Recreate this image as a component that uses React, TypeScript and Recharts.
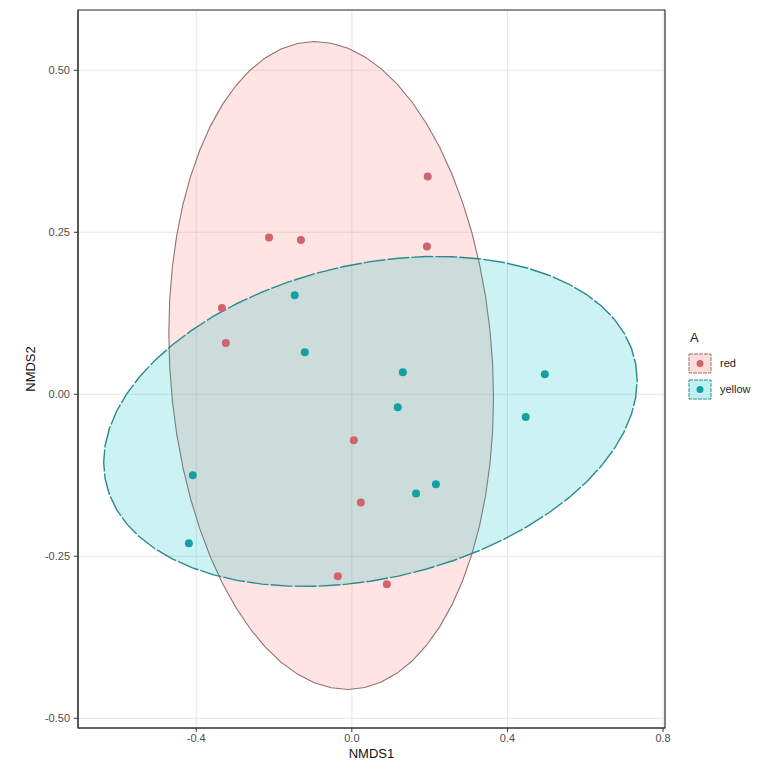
import {
  CartesianGrid,
  ReferenceArea,
  Scatter,
  ScatterChart,
  XAxis,
  YAxis,
} from "recharts";

// NMDS scores
const redPoints = [
  { x: 0.195, y: 0.336 },
  { x: -0.213, y: 0.242 },
  { x: -0.131, y: 0.238 },
  { x: 0.193, y: 0.228 },
  { x: -0.334, y: 0.133 },
  { x: -0.324, y: 0.079 },
  { x: 0.005, y: -0.071 },
  { x: 0.023, y: -0.167 },
  { x: -0.036, y: -0.281 },
  { x: 0.09, y: -0.293 },
];

const yellowPoints = [
  { x: -0.147, y: 0.153 },
  { x: -0.121, y: 0.065 },
  { x: 0.131, y: 0.034 },
  { x: 0.496, y: 0.031 },
  { x: 0.118, y: -0.02 },
  { x: 0.447, y: -0.035 },
  { x: -0.409, y: -0.125 },
  { x: 0.165, y: -0.153 },
  { x: 0.216, y: -0.139 },
  { x: -0.419, y: -0.23 },
];

const groups = ["red", "yellow"];
const xTicks = [-0.4, 0, 0.4, 0.8];
const yTicks = [-0.5, -0.25, 0, 0.25, 0.5];
const xDomain = [-0.704, 0.805];
const yDomain = [-0.515, 0.593];

// radius of the confidence ellipse, in units of the group's covariance
const ELLIPSE_RADIUS = 2.16;

// same idea as ggplot's stat_ellipse: mean + radius * circle %*% chol(cov)
function ellipseFrom(points, segments = 60) {
  const n = points.length;
  const mx = points.reduce((s, p) => s + p.x, 0) / n;
  const my = points.reduce((s, p) => s + p.y, 0) / n;
  let sxx = 0, syy = 0, sxy = 0;
  points.forEach((p) => {
    sxx += (p.x - mx) * (p.x - mx);
    syy += (p.y - my) * (p.y - my);
    sxy += (p.x - mx) * (p.y - my);
  });
  sxx /= n - 1;
  syy /= n - 1;
  sxy /= n - 1;
  const r11 = Math.sqrt(sxx);
  const r12 = sxy / r11;
  const r22 = Math.sqrt(syy - r12 * r12);
  const out = [];
  for (let i = 0; i <= segments; i++) {
    const t = (i / segments) * 2 * Math.PI;
    const c = Math.cos(t), s = Math.sin(t);
    out.push({
      x: mx + ELLIPSE_RADIUS * c * r11,
      y: my + ELLIPSE_RADIUS * (c * r12 + s * r22),
    });
  }
  return out;
}

const redEllipse = ellipseFrom(redPoints);
const yellowEllipse = ellipseFrom(yellowPoints);

const FONT = '"Liberation Sans", Arial, sans-serif';

const fills = { red: "#F8766D", yellow: "#00BFC4" };
const dots = { red: "#D0636B", yellow: "#12A0A3" };
const outlines = { red: "#957070", yellow: "#2A8A8C" };

const ellipseLine = (group, dashed) => (props) => {
  const pts = props.points || [];
  const d =
    pts.map((p, i) => `${i === 0 ? "M" : "L"}${p.x},${p.y}`).join(" ") + " Z";
  return (
    <path
      d={d}
      fill={fills[group]}
      fillOpacity={0.2}
      stroke={outlines[group]}
      strokeWidth={dashed ? 1.4 : 1.1}
      strokeDasharray={dashed ? "22 2" : undefined}
    />
  );
};

const dot = (group) => (props) => (
  <circle cx={props.cx} cy={props.cy} r={4} fill={dots[group]} />
);

const LegendBox = () => (
  <div
    style={{
      position: "absolute",
      left: 680,
      top: 322,
      fontFamily: FONT,
      fontSize: 11,
      color: "#222",
    }}
  >
    <div style={{ fontSize: 13, marginBottom: 5, marginLeft: 2 }}>A</div>
    {groups.map((g) => (
      <div
        key={g}
        style={{ display: "flex", alignItems: "center", height: 26 }}
      >
        <svg width={24} height={21}>
          <rect x={1} y={1} width={22} height={19} fill="#fff" />
          <rect
            x={1}
            y={1}
            width={22}
            height={19}
            fill={fills[g]}
            fillOpacity={0.25}
            stroke={outlines[g]}
            strokeDasharray="4 1"
          />
          <circle cx={12} cy={10.5} r={3.5} fill={dots[g]} />
        </svg>
        <span style={{ marginLeft: 8 }}>{g}</span>
      </div>
    ))}
  </div>
);

export default function App() {
  return (
    <div style={{ position: "relative", width: 756, height: 752 }}>
      <ScatterChart
        width={756}
        height={752}
        margin={{ top: 2, right: 99, bottom: 0, left: 0 }}
        style={{ fontFamily: FONT }}
      >
        <CartesianGrid stroke="#E6E6E6" />
        <XAxis
          type="number"
          dataKey="x"
          domain={xDomain}
          ticks={xTicks}
          allowDataOverflow
          tickFormatter={(v) => v.toFixed(1)}
          height={32}
          tick={{ fill: "#4D4D4D", fontSize: 11 }}
          tickSize={4}
          tickMargin={2}
          axisLine={{ stroke: "#333" }}
          tickLine={{ stroke: "#333" }}
          label={{ value: "NMDS1", position: "insideBottom", offset: 2, fill: "#111", fontSize: 13 }}
        />
        <YAxis
          type="number"
          dataKey="y"
          domain={yDomain}
          ticks={yTicks}
          allowDataOverflow
          tickFormatter={(v) => v.toFixed(2)}
          width={70}
          tick={{ fill: "#4D4D4D", fontSize: 11 }}
          tickSize={4}
          tickMargin={4}
          axisLine={{ stroke: "#333" }}
          tickLine={{ stroke: "#333" }}
          label={(p) => {
            const vb = p.viewBox || { x: 0, y: 2, width: 70, height: 718 };
            const x = vb.x + 22;
            const y = vb.y + vb.height / 2;
            return (
              <text
                x={x}
                y={y}
                transform={`rotate(-90, ${x}, ${y})`}
                textAnchor="middle"
                dominantBaseline="central"
                fill="#111"
                fontSize={13}
              >
                NMDS2
              </text>
            );
          }}
        />
        <Scatter
          data={redEllipse}
          line={ellipseLine("red", false)}
          shape={() => <g />}
          isAnimationActive={false}
        />
        <Scatter
          data={yellowEllipse}
          line={ellipseLine("yellow", true)}
          shape={() => <g />}
          isAnimationActive={false}
        />
        <Scatter data={redPoints} shape={dot("red")} isAnimationActive={false} />
        <Scatter
          data={yellowPoints}
          shape={dot("yellow")}
          isAnimationActive={false}
        />
        <ReferenceArea
          x1={xDomain[0]}
          x2={xDomain[1]}
          y1={yDomain[0]}
          y2={yDomain[1]}
          fill="none"
          stroke="#333"
          strokeWidth={1.2}
          ifOverflow="visible"
        />
      </ScatterChart>
      <LegendBox />
    </div>
  );
}
